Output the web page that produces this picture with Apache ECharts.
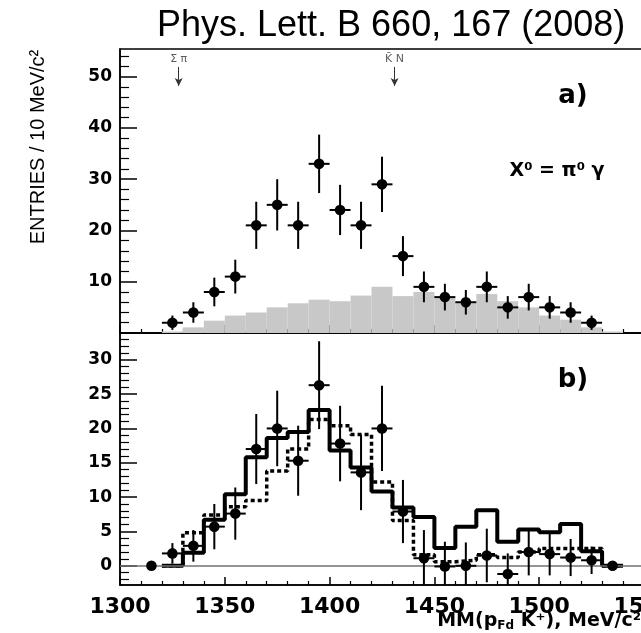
<!DOCTYPE html>
<html><head><meta charset="utf-8">
<script src="https://cdn.jsdelivr.net/npm/echarts@6/dist/echarts.min.js"></script>
<style>html,body{margin:0;padding:0;background:#fff}#c{width:641px;height:633px}</style>
</head><body><div id="c"></div>
<script>
// ---- Data ----
const topCenters = [1325,1335,1345,1355,1365,1375,1385,1395,1405,1415,1425,1435,1445,1455,1465,1475,1485,1495,1505,1515,1525];
const topCounts  = [2,4,8,11,21,25,21,33,24,21,29,15,9,7,6,9,5,7,5,4,2];
const topErrors  = [1.4,2.0,2.8,3.3,4.6,5.0,4.6,5.7,4.9,4.6,5.4,3.9,3.0,2.6,2.4,3.0,2.2,2.6,2.2,2.0,1.4];
const binHalfWidth = 5;

const grayBinLefts = [1320,1330,1340,1350,1360,1370,1380,1390,1400,1410,1420,1430,1440,1450,1460,1470,1480,1490,1500,1510,1520,1530];
const grayValues   = [0.3,1.1,2.4,3.4,4.0,5.0,5.8,6.5,6.2,7.3,9.0,7.2,8.0,6.8,5.8,7.6,6.2,5.0,3.4,2.6,1.1,0.3];
const binWidth = 10;

const bottomCenters = [1315,1325,1335,1345,1355,1365,1375,1385,1395,1405,1415,1425,1435,1445,1455,1465,1475,1485,1495,1505,1515,1525,1535];
const bottomValues  = [0,1.8,2.9,5.7,7.6,17.0,20.0,15.3,26.3,17.8,13.6,20.0,7.9,1.1,-0.1,0,1.5,-1.2,2.0,1.7,1.2,0.8,0];
const bottomErrors  = [0,1.5,2.3,3.3,3.8,5.1,5.5,5.1,6.4,5.5,5.5,6.2,4.6,4.1,3.6,3.4,3.9,3.0,3.4,3.1,2.7,2.0,0];
const bottomXErr    = [0,5,5,5,5,5,5,5,5,5,5,5,5,5,5,5,5,5,5,5,5,5,0];

const histBinLefts = [1320,1330,1340,1350,1360,1370,1380,1390,1400,1410,1420,1430,1440,1450,1460,1470,1480,1490,1500,1510,1520,1530];
const histEnd = 1540;
const solidValues  = [0,1.9,6.7,10.4,15.8,18.6,19.5,22.7,16.8,14.3,10.8,8.5,7.1,2.6,5.7,8.1,3.5,5.3,4.9,6.1,2.1,0];
const dashedValues = [0,4.8,7.4,8.6,9.5,13.8,17.0,21.3,20.4,19.1,12.2,6.6,1.6,0.6,0.8,1.6,1.2,2.0,2.5,2.5,2.5,0];

const thresholdX = [1328, 1431];
const thresholdNames = ['Σ π', 'K̄ N'];
const thresholdLabelY = 53.4;
const thresholdArrowFrom = 51.9;
const thresholdArrowTo = 48.2;

const topMajorTicks = [0,10,20,30,40,50];
const topLabelTicks = [10,20,30,40,50];
const topMinorTicks = [2,4,6,8,12,14,16,18,22,24,26,28,32,34,36,38,42,44,46,48,52,54];
const bottomMajorTicks = [0,5,10,15,20,25,30];
const bottomMinorTicks = [-2,-1,1,2,3,4,6,7,8,9,11,12,13,14,16,17,18,19,21,22,23,24,26,27,28,29,31,32,33];

// ---- Chart ----
const chart = echarts.init(document.getElementById('c'));
const BLACK = '#000';
const labelFont = {fontFamily: '"DejaVu Sans", sans-serif', fontWeight: 'bold', color: BLACK};

function xAxisDef(gridIndex, showLabels) {
  return {
    type: 'value', gridIndex, min: 1300, max: 1550, interval: 50,
    axisLine: {show: true, onZero: false, lineStyle: {color: BLACK, width: 1.5}},
    axisTick: {show: true, inside: true, length: 8, lineStyle: {color: BLACK, width: 1.5}},
    minorTick: {show: true, splitNumber: 5, length: 4, lineStyle: {color: BLACK, width: 1.2}},
    splitLine: {show: false}, minorSplitLine: {show: false},
    axisLabel: Object.assign({show: showLabels, fontSize: 22, margin: 11, formatter: v => String(v),
                              showMinLabel: true, showMaxLabel: true, hideOverlap: false}, labelFont)
  };
}
function yMain(gridIndex, min, max, ticks, labels) {
  return {
    type: 'value', gridIndex, min, max, position: 'left',
    axisLine: {show: true, onZero: false, lineStyle: {color: BLACK, width: 1.5}},
    axisTick: {show: true, inside: true, length: 17, customValues: ticks, lineStyle: {color: BLACK, width: 1.5}},
    axisLabel: Object.assign({show: true, fontSize: 17, margin: 8, customValues: labels, formatter: v => String(v)}, labelFont),
    splitLine: {show: false}
  };
}
function yMinor(gridIndex, min, max, ticks) {
  return {
    type: 'value', gridIndex, min, max, position: 'left',
    axisLine: {show: false},
    axisTick: {show: true, inside: true, length: 9, customValues: ticks, lineStyle: {color: BLACK, width: 1.2}},
    axisLabel: {show: false},
    splitLine: {show: false}
  };
}

function pointRender(params, api) {
  const x = api.value(0), y = api.value(1), e = api.value(2), hw = api.value(3);
  const c = api.coord([x, y]);
  const children = [];
  if (e > 0) {
    const lo = api.coord([x, y - e]), hi = api.coord([x, y + e]);
    children.push({type: 'line', shape: {x1: c[0], y1: lo[1], x2: c[0], y2: hi[1]}, style: {stroke: BLACK, lineWidth: 2}});
  }
  if (hw > 0) {
    const l = api.coord([x - hw, y]), r = api.coord([x + hw, y]);
    children.push({type: 'line', shape: {x1: l[0], y1: c[1], x2: r[0], y2: c[1]}, style: {stroke: BLACK, lineWidth: 2}});
  }
  children.push({type: 'circle', shape: {cx: c[0], cy: c[1], r: 5.3}, style: {fill: BLACK}});
  return {type: 'group', children};
}
function barRender(params, api) {
  const x0 = api.value(0), v = api.value(1), w = api.value(2);
  const p0 = api.coord([x0, v]), p1 = api.coord([x0 + w, 0]);
  return {type: 'rect', shape: {x: p0[0], y: p0[1], width: p1[0] - p0[0], height: p1[1] - p0[1]}, style: {fill: '#c8c8c8'}};
}
function stepData(lefts, vals, end) {
  const d = lefts.map((x, i) => [x, vals[i]]);
  d.push([end, vals[vals.length - 1]]);
  return d;
}

const gridCommon = {left: 120, right: -3, show: true, borderColor: BLACK, borderWidth: 1.5,
                    backgroundColor: 'transparent', containLabel: false, outerBoundsMode: 'none'};

const option = {
  animation: false,
  backgroundColor: '#fff',
  title: {
    text: 'Phys. Lett. B 660, 167 (2008)', left: 152, top: 3,
    textStyle: {fontFamily: '"Liberation Sans", Arial, sans-serif', fontWeight: 'normal', fontSize: 36, color: BLACK}
  },
  grid: [
    Object.assign({top: 49, height: 284}, gridCommon),
    Object.assign({top: 333, height: 252}, gridCommon)
  ],
  xAxis: [xAxisDef(0, false), xAxisDef(1, true)],
  yAxis: [
    yMain(0, 0, 55.4, topMajorTicks, topLabelTicks),
    yMinor(0, 0, 55.4, topMinorTicks),
    yMain(1, -2.8, 33.9, bottomMajorTicks, bottomMajorTicks),
    yMinor(1, -2.8, 33.9, bottomMinorTicks)
  ],
  series: [
    {
      type: 'custom', name: 'background', xAxisIndex: 0, yAxisIndex: 0, clip: true, z: 1,
      renderItem: barRender,
      data: grayBinLefts.map((x, i) => [x, grayValues[i], binWidth])
    },
    {
      type: 'custom', name: 'data a', xAxisIndex: 0, yAxisIndex: 0, clip: true, z: 5,
      renderItem: pointRender,
      data: topCenters.map((x, i) => [x, topCounts[i], topErrors[i], binHalfWidth])
    },
    {
      type: 'scatter', name: 'thresholds', xAxisIndex: 0, yAxisIndex: 0, symbolSize: 0, z: 6,
      label: {show: true, position: 'inside', formatter: p => p.name, fontFamily: '"DejaVu Sans", sans-serif', fontSize: 11, color: '#333'},
      data: thresholdX.map((x, i) => ({name: thresholdNames[i], value: [x, thresholdLabelY]})),
      markLine: {
        silent: true, symbol: ['none', 'arrow'], symbolSize: [6, 8],
        lineStyle: {color: '#333', width: 1, type: 'solid'}, label: {show: false},
        data: thresholdX.map(x => [{coord: [x, thresholdArrowFrom]}, {coord: [x, thresholdArrowTo]}])
      }
    },
    {
      type: 'line', name: 'solid', xAxisIndex: 1, yAxisIndex: 2, step: 'end', symbol: 'none', z: 3,
      lineStyle: {color: BLACK, width: 4, type: 'solid'},
      data: stepData(histBinLefts, solidValues, histEnd),
      markLine: {
        silent: true, symbol: 'none', label: {show: false},
        lineStyle: {color: '#707070', width: 1.5, type: 'solid'},
        data: [{yAxis: 0}]
      }
    },
    {
      type: 'line', name: 'dashed', xAxisIndex: 1, yAxisIndex: 2, step: 'end', symbol: 'none', z: 3,
      lineStyle: {color: BLACK, width: 3.5, type: [4, 3]},
      data: stepData(histBinLefts, dashedValues, histEnd)
    },
    {
      type: 'custom', name: 'data b', xAxisIndex: 1, yAxisIndex: 2, clip: true, z: 5,
      renderItem: pointRender,
      data: bottomCenters.map((x, i) => [x, bottomValues[i], bottomErrors[i], bottomXErr[i]])
    }
  ],
  graphic: [
    {type: 'text', x: 38, y: 147, rotation: Math.PI / 2,
     style: {text: 'ENTRIES / 10 MeV/c²', align: 'center', verticalAlign: 'middle', fill: BLACK,
             font: 'normal 20px "Liberation Sans", Arial, sans-serif'}},
    {type: 'text', x: 573, y: 96,
     style: {text: 'a)', align: 'center', verticalAlign: 'middle', fill: BLACK, font: 'bold 26px "DejaVu Sans", sans-serif'}},
    {type: 'text', x: 573, y: 380,
     style: {text: 'b)', align: 'center', verticalAlign: 'middle', fill: BLACK, font: 'bold 26px "DejaVu Sans", sans-serif'}},
    {type: 'text', x: 557, y: 171,
     style: {text: 'X⁰ = π⁰ γ', align: 'center', verticalAlign: 'middle', fill: BLACK, font: 'bold 19px "DejaVu Sans", sans-serif'}},
    {type: 'text', x: 641, y: 621,
     style: {text: '{a|MM(p}{s|Fd}{a| K⁺), MeV/c²}', align: 'right', verticalAlign: 'middle',
             rich: {
               a: {fontFamily: '"DejaVu Sans", sans-serif', fontWeight: 'bold', fontSize: 19, fill: BLACK},
               s: {fontFamily: '"DejaVu Sans", sans-serif', fontWeight: 'bold', fontSize: 12, fill: BLACK, padding: [10, 0, 0, 0]}
             }}}
  ]
};
chart.setOption(option);
</script>
</body></html>
